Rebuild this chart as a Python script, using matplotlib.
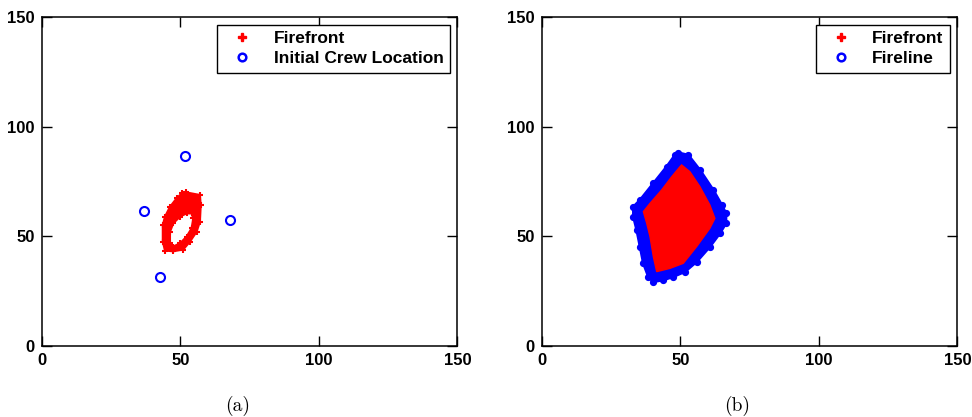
import matplotlib.pyplot as plt
from matplotlib.lines import Line2D
from matplotlib.patches import PathPatch, Polygon
from matplotlib.path import Path

# (a) fire front ring at the start, outer and inner edge
front_outer_x = [52.1, 57.1, 57.4, 57.1, 55.9, 53.5, 51.1, 47.5, 44.5, 43.7, 43.7, 44.5, 46.3, 48.7, 50.5]
front_outer_y = [70.0, 68.8, 64.2, 56.6, 52.0, 47.5, 43.9, 43.1, 43.4, 47.5, 55.1, 58.9, 63.4, 67.3, 69.5]
front_inner_x = [54.1, 54.7, 54.1, 52.3, 49.9, 47.3, 46.3, 46.3, 47.5, 49.9, 52.3]
front_inner_y = [60.4, 58.1, 53.6, 49.8, 46.7, 45.2, 46.7, 52.0, 55.9, 58.9, 60.4]

# (a) initial crew positions
crew_x = [36.9, 51.7, 67.9, 42.7]
crew_y = [61.5, 86.6, 57.4, 31.4]

# (b) fireline outer edge
line_x = [49.3, 52.9, 57.1, 61.9, 65.0, 66.5, 66.5, 64.3, 60.7, 55.9, 51.7, 47.5,
          43.9, 40.3, 38.5, 36.7, 35.5, 34.3, 33.1, 33.1, 35.5, 40.3, 45.1, 48.1]
line_y = [88.1, 87.0, 80.2, 71.1, 64.2, 60.4, 55.9, 51.3, 45.2, 38.3, 33.8, 31.5,
          30.0, 29.2, 31.5, 37.6, 45.2, 52.8, 58.9, 63.4, 66.5, 74.1, 81.7, 87.0]

# (b) burnt area enclosed by the fireline
burnt_x = [50.5, 53.5, 57.1, 60.7, 62.5, 60.7, 55.9, 51.1, 46.3, 41.5, 40.3, 39.1,
           37.9, 36.7, 39.1, 43.3, 46.9, 49.9]
burnt_y = [82.5, 79.4, 72.6, 64.2, 58.1, 53.6, 45.2, 37.6, 35.3, 33.8, 40.6, 49.7,
           55.9, 61.2, 65.0, 71.1, 77.1, 81.7]

ticks = [0, 50, 100, 150]
bold = {"family": "Liberation Sans", "weight": "bold", "size": 12}
legend_font = {"family": "Liberation Sans", "weight": "bold", "size": 12.5}


def style_axes(ax):
    ax.set_xlim(0, 150)
    ax.set_ylim(0, 150)
    ax.set_xticks(ticks)
    ax.set_yticks(ticks)
    ax.tick_params(direction="in", length=7, width=1, top=True, right=True, pad=5)
    for lab in ax.get_xticklabels() + ax.get_yticklabels():
        lab.set_fontproperties(bold)
    for sp in ax.spines.values():
        sp.set_linewidth(1.1)


def add_legend(ax, handles, labels):
    leg = ax.legend(handles, labels, loc="upper right", prop=legend_font, fancybox=False,
                    framealpha=1, edgecolor="black", borderpad=0.35, labelspacing=0.3,
                    handlelength=2.2, handletextpad=0.7, borderaxespad=0.45)
    leg.get_frame().set_linewidth(1.0)


fig = plt.figure(figsize=(9.72, 4.17), dpi=100)
ax1 = fig.add_axes([0.0429, 0.171, 0.4276, 0.788])
ax2 = fig.add_axes([0.5573, 0.171, 0.4276, 0.788])

# ring: outer edge plus reversed inner edge so the hole stays empty
verts = list(zip(front_outer_x, front_outer_y)) + [(front_outer_x[0], front_outer_y[0])]
inner = list(zip(front_inner_x[::-1], front_inner_y[::-1]))
verts += inner + [inner[0]]
codes = ([Path.MOVETO] + [Path.LINETO] * (len(front_outer_x) - 1) + [Path.CLOSEPOLY]
         + [Path.MOVETO] + [Path.LINETO] * (len(front_inner_x) - 1) + [Path.CLOSEPOLY])
ax1.add_patch(PathPatch(Path(verts, codes), facecolor="red", edgecolor="red", lw=1.5))
ax1.plot(front_outer_x, front_outer_y, "+", color="red", ms=5, mew=1.5)
ax1.plot(front_inner_x, front_inner_y, "+", color="red", ms=5, mew=1.5)
ax1.plot(crew_x, crew_y, "o", color="blue", mfc="none", ms=6.5, mew=1.5)
style_axes(ax1)

ax2.add_patch(Polygon(list(zip(line_x, line_y)), closed=True, facecolor="blue",
                      edgecolor="blue", lw=2, joinstyle="round"))
ax2.plot(line_x, line_y, "o", color="blue", ms=4, mew=1.2)
ax2.add_patch(Polygon(list(zip(burnt_x, burnt_y)), closed=True, facecolor="red",
                      edgecolor="red", lw=1))
style_axes(ax2)

front_handle = Line2D([], [], color="red", marker="P", ls="none", ms=6)
crew_handle = Line2D([], [], color="blue", marker="o", mfc="none", mew=1.8, ls="none", ms=5.5)
add_legend(ax1, [front_handle, crew_handle], ["Firefront", "Initial Crew Location"])
add_legend(ax2, [front_handle, crew_handle], ["Firefront", "Fireline"])

fig.text(0.244, 0.027, "(a)", family="cmr10", size=14, ha="center", va="center")
fig.text(0.758, 0.027, "(b)", family="cmr10", size=14, ha="center", va="center")

fig.savefig("out.png", dpi=100)
